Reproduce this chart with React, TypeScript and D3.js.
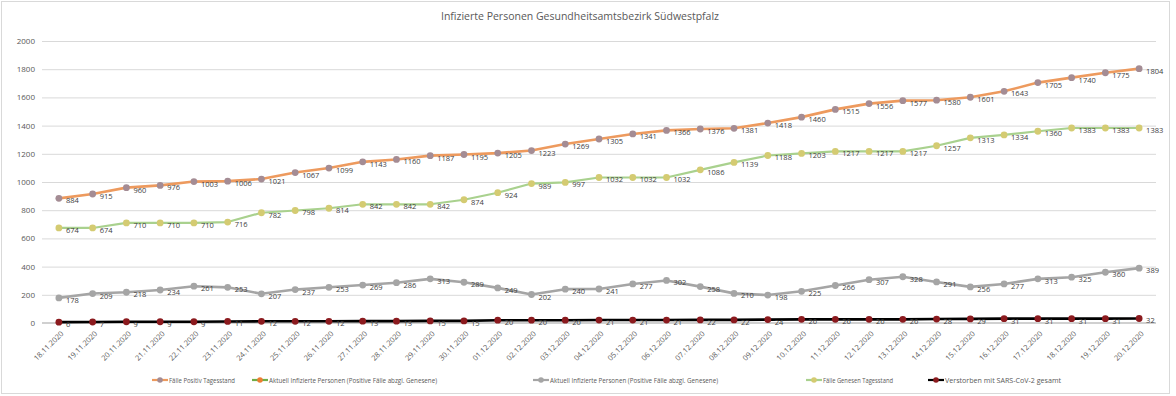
import React, { useEffect, useRef } from 'react';
import * as d3 from 'd3';

const dates = [
  '18.11.2020', '19.11.2020', '20.11.2020', '21.11.2020', '22.11.2020', '23.11.2020',
  '24.11.2020', '25.11.2020', '26.11.2020', '27.11.2020', '28.11.2020', '29.11.2020',
  '30.11.2020', '01.12.2020', '02.12.2020', '03.12.2020', '04.12.2020', '05.12.2020',
  '06.12.2020', '07.12.2020', '08.12.2020', '09.12.2020', '10.12.2020', '11.12.2020',
  '12.12.2020', '13.12.2020', '14.12.2020', '15.12.2020', '16.12.2020', '17.12.2020',
  '18.12.2020', '19.12.2020', '20.12.2020',
];

const positiv = [
  884, 915, 960, 976, 1003, 1006, 1021, 1067, 1099, 1143, 1160, 1187, 1195, 1205, 1223, 1269,
  1305, 1341, 1366, 1376, 1381, 1418, 1460, 1515, 1556, 1577, 1580, 1601, 1643, 1705, 1740,
  1775, 1804,
];

const aktuell = [
  178, 209, 218, 234, 261, 253, 207, 237, 253, 269, 286, 313, 289, 249, 202, 240, 241, 277,
  302, 258, 210, 198, 225, 266, 307, 328, 291, 256, 277, 313, 325, 360, 389,
];

const genesen = [
  674, 674, 710, 710, 710, 716, 782, 798, 814, 842, 842, 842, 874, 924, 989, 997, 1032, 1032,
  1032, 1086, 1139, 1188, 1203, 1217, 1217, 1217, 1257, 1313, 1334, 1360, 1383, 1383, 1383,
];

const verstorben = [
  6, 7, 9, 9, 9, 11, 12, 12, 12, 13, 13, 15, 15, 20, 20, 20, 21, 21, 21, 22, 22, 24, 26, 26, 26,
  26, 28, 29, 31, 31, 31, 31, 32,
];

const yTicks = [0, 200, 400, 600, 800, 1000, 1200, 1400, 1600, 1800, 2000];

const title = 'Infizierte Personen Gesundheitsamtsbezirk Südwestpfalz';

// plotted series, drawn in this order
const series = [
  { name: 'Aktuell Infizierte Personen (Positive Fälle abzgl. Genesene)', values: aktuell, line: '#A5A5A5', marker: '#A5A5A5', width: 2.6 },
  { name: 'Fälle Genesen Tagesstand', values: genesen, line: '#A9D18E', marker: '#D4CB72', width: 2.2 },
  { name: 'Fälle Positiv Tagesstand', values: positiv, line: '#ED9A5E', marker: '#A48C94', width: 2.6 },
  { name: 'Verstorben mit SARS-CoV-2 gesamt', values: verstorben, line: '#000000', marker: '#8B1A1E', width: 2.6 },
];

// legend entries: x of the line start and text width as in the original (narrow font)
const legendItems = [
  { name: 'Fälle Positiv Tagesstand', line: '#ED9A5E', marker: '#A48C94', x: 152, w: 66 },
  { name: 'Aktuell Infizierte Personen (Positive Fälle abzgl. Genesene)', line: '#70AD47', marker: '#ED7D31', x: 252, w: 168 },
  { name: 'Aktuell Infizierte Personen (Positive Fälle abzgl. Genesene)', line: '#A5A5A5', marker: '#A5A5A5', x: 533, w: 168 },
  { name: 'Fälle Genesen Tagesstand', line: '#A9D18E', marker: '#D4CB72', x: 806, w: 70 },
  { name: 'Verstorben mit SARS-CoV-2 gesamt', line: '#000000', marker: '#8B1A1E', x: 928, w: 116 },
];

const W = 1176;
const H = 396;
const font = "'Open Sans', 'Noto Sans', sans-serif";

const App: React.FC = () => {
  const svgRef = useRef<SVGSVGElement | null>(null);

  useEffect(() => {
    const svg = d3.select(svgRef.current);
    svg.selectAll('*').remove();

    const left = 42;
    const right = 1156;
    const top = 41;
    const bottom = 323;

    const x = d3.scaleBand<string>().domain(dates).range([left, right]);
    const cx = (i: number) => (x(dates[i]) || 0) + x.bandwidth() / 2;
    const y = d3.scaleLinear().domain([0, 2000]).range([bottom, top]);

    svg.append('rect')
      .attr('x', 1.5).attr('y', 1.5).attr('width', 1168).attr('height', 392)
      .attr('fill', '#fff').attr('stroke', '#D9D9D9');

    svg.append('text')
      .attr('x', 580).attr('y', 20)
      .attr('text-anchor', 'middle')
      .attr('font-family', font).attr('font-size', 10.5)
      .attr('fill', '#595959')
      .text(title);

    // grid
    const yAxis = d3.axisLeft(y)
      .tickValues(yTicks)
      .tickFormat(d3.format('d'))
      .tickSize(-(right - left))
      .tickPadding(7);
    const gy = svg.append('g').attr('transform', `translate(${left},0)`).call(yAxis);
    gy.select('.domain').remove();
    gy.selectAll('line').attr('stroke', '#D9D9D9');
    gy.selectAll('text')
      .attr('font-family', font).attr('font-size', 8).attr('fill', '#595959');

    svg.append('line')
      .attr('x1', left).attr('x2', right).attr('y1', y(0)).attr('y2', y(0))
      .attr('stroke', '#D0D0D0').attr('stroke-width', 2);

    // x labels
    svg.append('g').selectAll('text')
      .data(dates)
      .join('text')
      .attr('transform', (_, i) => `translate(${cx(i) + 3},${bottom + 9}) rotate(-45)`)
      .attr('text-anchor', 'end')
      .attr('dominant-baseline', 'central')
      .attr('font-family', font).attr('font-size', 7.5)
      .attr('fill', '#595959')
      .text((d) => d);

    const line = d3.line<number>().x((_, i) => cx(i)).y((d) => y(d));

    series.forEach((s) => {
      const g = svg.append('g');
      g.append('path')
        .datum(s.values)
        .attr('d', line)
        .attr('fill', 'none')
        .attr('stroke', s.line)
        .attr('stroke-width', s.width)
        .attr('stroke-linejoin', 'round');
      g.selectAll('circle')
        .data(s.values)
        .join('circle')
        .attr('cx', (_, i) => cx(i))
        .attr('cy', (d) => y(d))
        .attr('r', 3.4)
        .attr('fill', s.marker);
      g.selectAll('text')
        .data(s.values)
        .join('text')
        .attr('x', (_, i) => cx(i) + 7)
        .attr('y', (d) => y(d) + 2)
        .attr('dominant-baseline', 'central')
        .attr('font-family', font).attr('font-size', 7.5)
        .attr('fill', '#404040')
        .text((d) => d);
    });

    // legend
    const lg = svg.append('g').attr('transform', 'translate(0,380)');
    legendItems.forEach((item) => {
      const e = lg.append('g').attr('transform', `translate(${item.x},0)`);
      e.append('line').attr('x1', 0).attr('x2', 16).attr('y1', 0).attr('y2', 0)
        .attr('stroke', item.line).attr('stroke-width', 2.2);
      e.append('circle').attr('cx', 8).attr('cy', 0).attr('r', 2.8).attr('fill', item.marker);
      e.append('text')
        .attr('x', 17).attr('y', 0)
        .attr('dominant-baseline', 'central')
        .attr('font-family', font).attr('font-size', 7.5)
        .attr('fill', '#595959')
        .attr('textLength', item.w)
        .attr('lengthAdjust', 'spacingAndGlyphs')
        .text(item.name);
    });
  }, []);

  return (
    <div style={{ position: 'absolute', left: 0, top: 0 }}>
      <svg ref={svgRef} width={W} height={H} />
    </div>
  );
};

export default App;
